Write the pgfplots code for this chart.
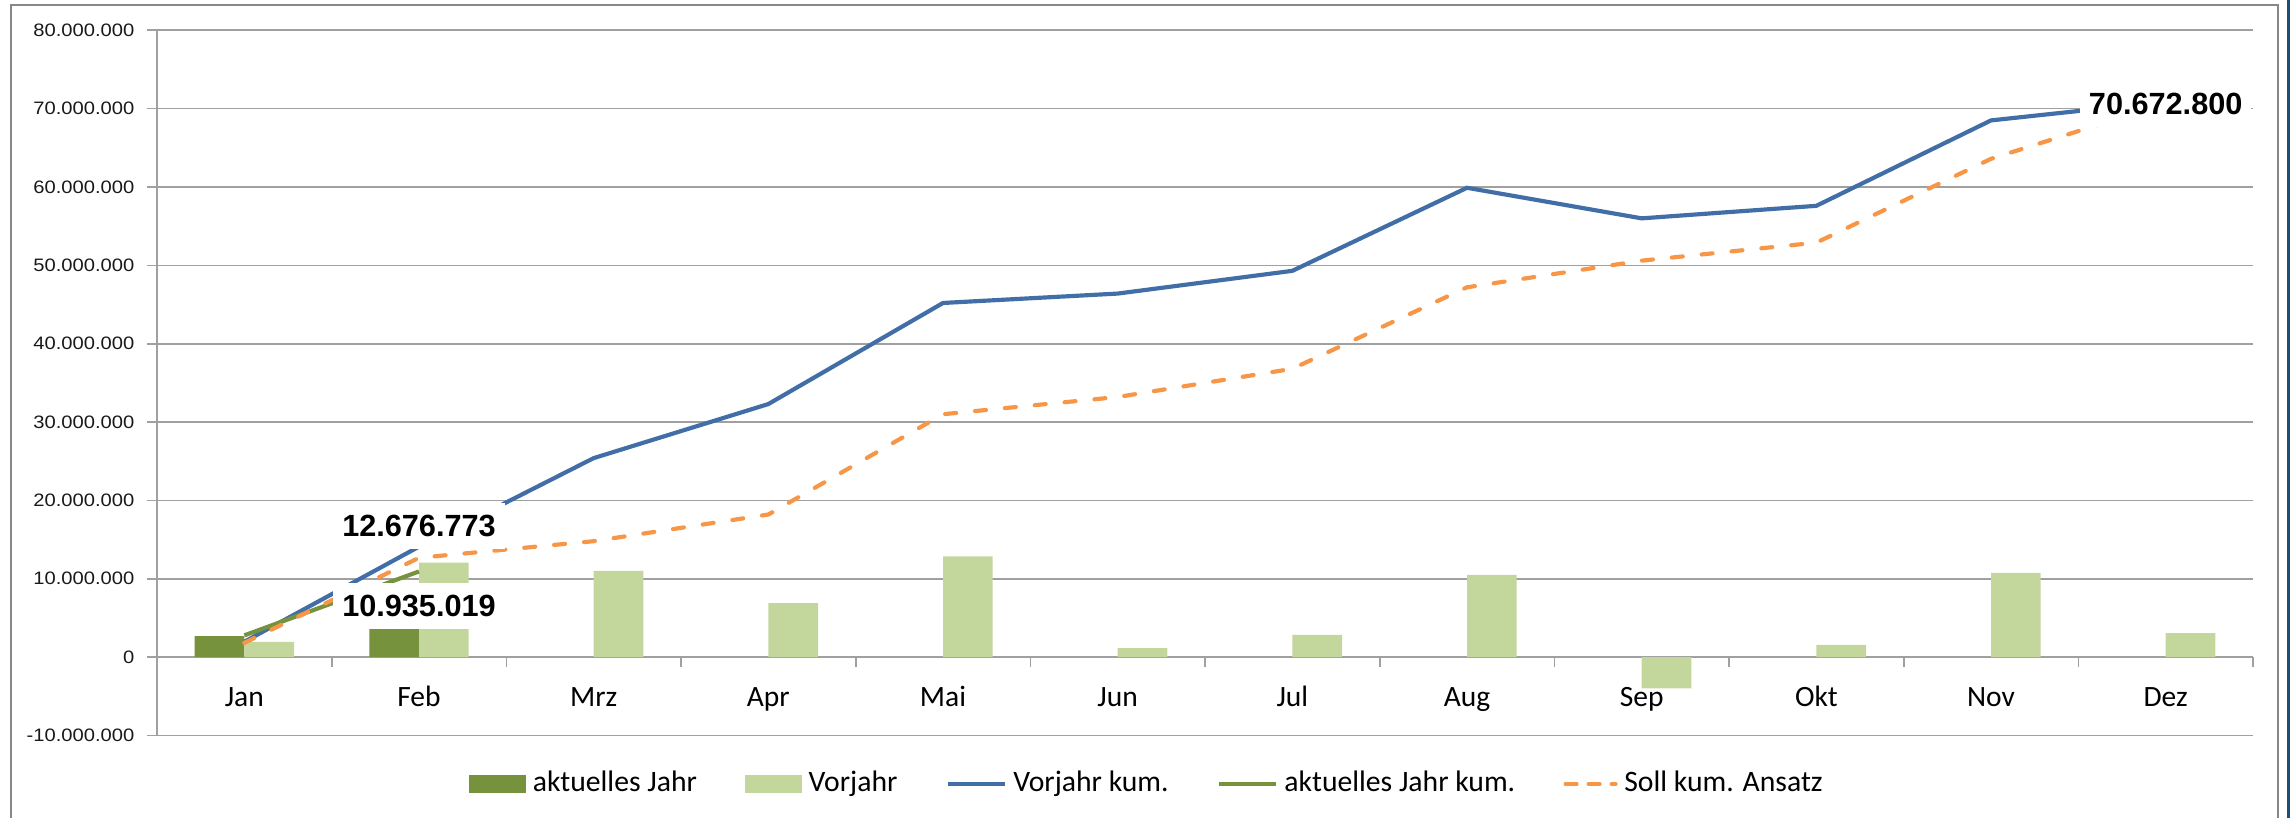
\documentclass[border=0pt]{standalone}
\usepackage{fontspec}
\setmainfont{Carlito}
\newfontfamily\yfont[FakeStretch=1.12]{Liberation Sans}
\newfontfamily\lblfont{Liberation Sans}
\usepackage{pgfplots}
\pgfplotsset{compat=1.18}
\definecolor{dkgreen}{RGB}{118,146,60}
\definecolor{ltgreen}{RGB}{195,214,155}
\definecolor{vjblue}{RGB}{66,110,168}
\definecolor{sollorange}{RGB}{247,150,70}
\definecolor{gridgray}{RGB}{160,160,160}
\definecolor{framegray}{RGB}{135,135,135}
\definecolor{edgeblue}{RGB}{31,78,121}
\begin{document}
\begin{tikzpicture}
\path[use as bounding box] (-47.1pt,-24.75pt) rectangle (639.9pt,220.65pt);
\draw[framegray, line width=0.6pt] (-43.8pt,-30pt) -- (-43.8pt,219.15pt) -- (636.3pt,219.15pt) -- (636.3pt,-30pt);
\fill[edgeblue] (638.9pt,-30pt) rectangle (645pt,230pt);
\begin{axis}[
  at={(0,0)}, anchor=south west,
  scale only axis, width=628.8pt, height=211.56pt,
  xmin=-0.5, xmax=11.5, ymin=-10, ymax=80,
  axis y line*=left, axis x line*=middle,
  hide obscured x ticks=false, hide obscured y ticks=false,
  axis line style={gridgray, line width=0.5pt},
  tick style={gridgray, line width=0.5pt},
  tick align=outside,
  major tick length=3pt,
  ymajorgrids, grid style={gridgray, line width=0.5pt},
  ytick={-10,0,...,80},
  yticklabels={-10.000.000,0,10.000.000,20.000.000,30.000.000,40.000.000,50.000.000,60.000.000,70.000.000,80.000.000},
  yticklabel style={font=\yfont\fontsize{5.4}{6.5}\selectfont, text=black!90, anchor=east, inner sep=0pt, xshift=-3.6pt},
  xtick={-0.5,0.5,...,11.5},
  xticklabels={},
  extra x ticks={0,1,...,11},
  extra x tick labels={Jan,Feb,Mrz,Apr,Mai,Jun,Jul,Aug,Sep,Okt,Nov,Dez},
  extra x tick style={major tick length=0pt, grid=none,
     xticklabel style={font=\fontsize{8.85}{10}\selectfont, anchor=base, yshift=-14.7pt}},
  legend style={at={(axis description cs:0.4735,-0.0688)}, anchor=center, draw=none, fill=none,
     font=\fontsize{8.9}{10}\selectfont, legend columns=5,
     /tikz/every even column/.append style={column sep=12.5pt}},
  legend cell align=left,
]
% aktuelles Jahr (bars)
\addplot[ybar, bar width=14.9pt, bar shift=-7.45pt, fill=dkgreen, draw=none,
  legend image code/.code={\fill[dkgreen] (0pt,-2.7pt) rectangle (17pt,2.7pt);}]
  coordinates {(0,2.69) (1,3.75)};
\addlegendentry{aktuelles Jahr}
% Vorjahr (bars)
\addplot[ybar, bar width=14.9pt, bar shift=7.45pt, fill=ltgreen, draw=none,
  legend image code/.code={\fill[ltgreen] (0pt,-2.7pt) rectangle (17pt,2.7pt);}]
  coordinates {(0,1.96) (1,12.06) (2,11.0) (3,6.9) (4,12.85) (5,1.15) (6,2.85) (7,10.5) (8,-4.0) (9,1.55) (10,10.74) (11,3.07)};
\addlegendentry{Vorjahr}
% Vorjahr kum.
\addplot[vjblue, line width=1.25pt, mark=none,
  legend image code/.code={\draw[vjblue, line width=1.25pt] (0pt,0pt) -- (17pt,0pt);}]
  coordinates {(0,1.96) (1,14.1) (2,25.4) (3,32.3) (4,45.2) (5,46.4) (6,49.3) (7,59.9) (8,56.0) (9,57.6) (10,68.5) (11,70.9)};
\addlegendentry{Vorjahr kum.}
% aktuelles Jahr kum.
\addplot[dkgreen, line width=1.25pt, mark=none,
  legend image code/.code={\draw[dkgreen, line width=1.25pt] (0pt,0pt) -- (17pt,0pt);}]
  coordinates {(0,2.78) (1,10.935019)};
\addlegendentry{aktuelles Jahr kum.}
% Soll kum. Ansatz
\addplot[sollorange, line width=1.25pt, mark=none, line cap=round, dash pattern=on 3.3pt off 5.7pt,
  legend image code/.code={\draw[sollorange, line width=1.25pt, line cap=round, dash pattern=on 3.3pt off 3.6pt] (1pt,0pt) -- (16pt,0pt);}]
  coordinates {(0,1.82) (1,12.676773) (2,14.8) (3,18.2) (4,31.0) (5,33.2) (6,36.8) (7,47.2) (8,50.6) (9,52.9) (10,63.6) (11,70.6728)};
\addlegendentry{Soll kum. Ansatz}
% data labels
\node[fill=white, font=\lblfont\bfseries\fontsize{9.2}{11}\selectfont, inner xsep=2.7pt, inner ysep=3.7pt] at (axis cs:1,16.75) {12.676.773};
\node[fill=white, font=\lblfont\bfseries\fontsize{9.2}{11}\selectfont, inner xsep=2.7pt, inner ysep=3.7pt] at (axis cs:1,6.55) {10.935.019};
\node[fill=white, font=\lblfont\bfseries\fontsize{9.2}{11}\selectfont, inner xsep=2.7pt, inner ysep=3.7pt] at (axis cs:11,70.65) {70.672.800};
\end{axis}
\end{tikzpicture}
\end{document}
